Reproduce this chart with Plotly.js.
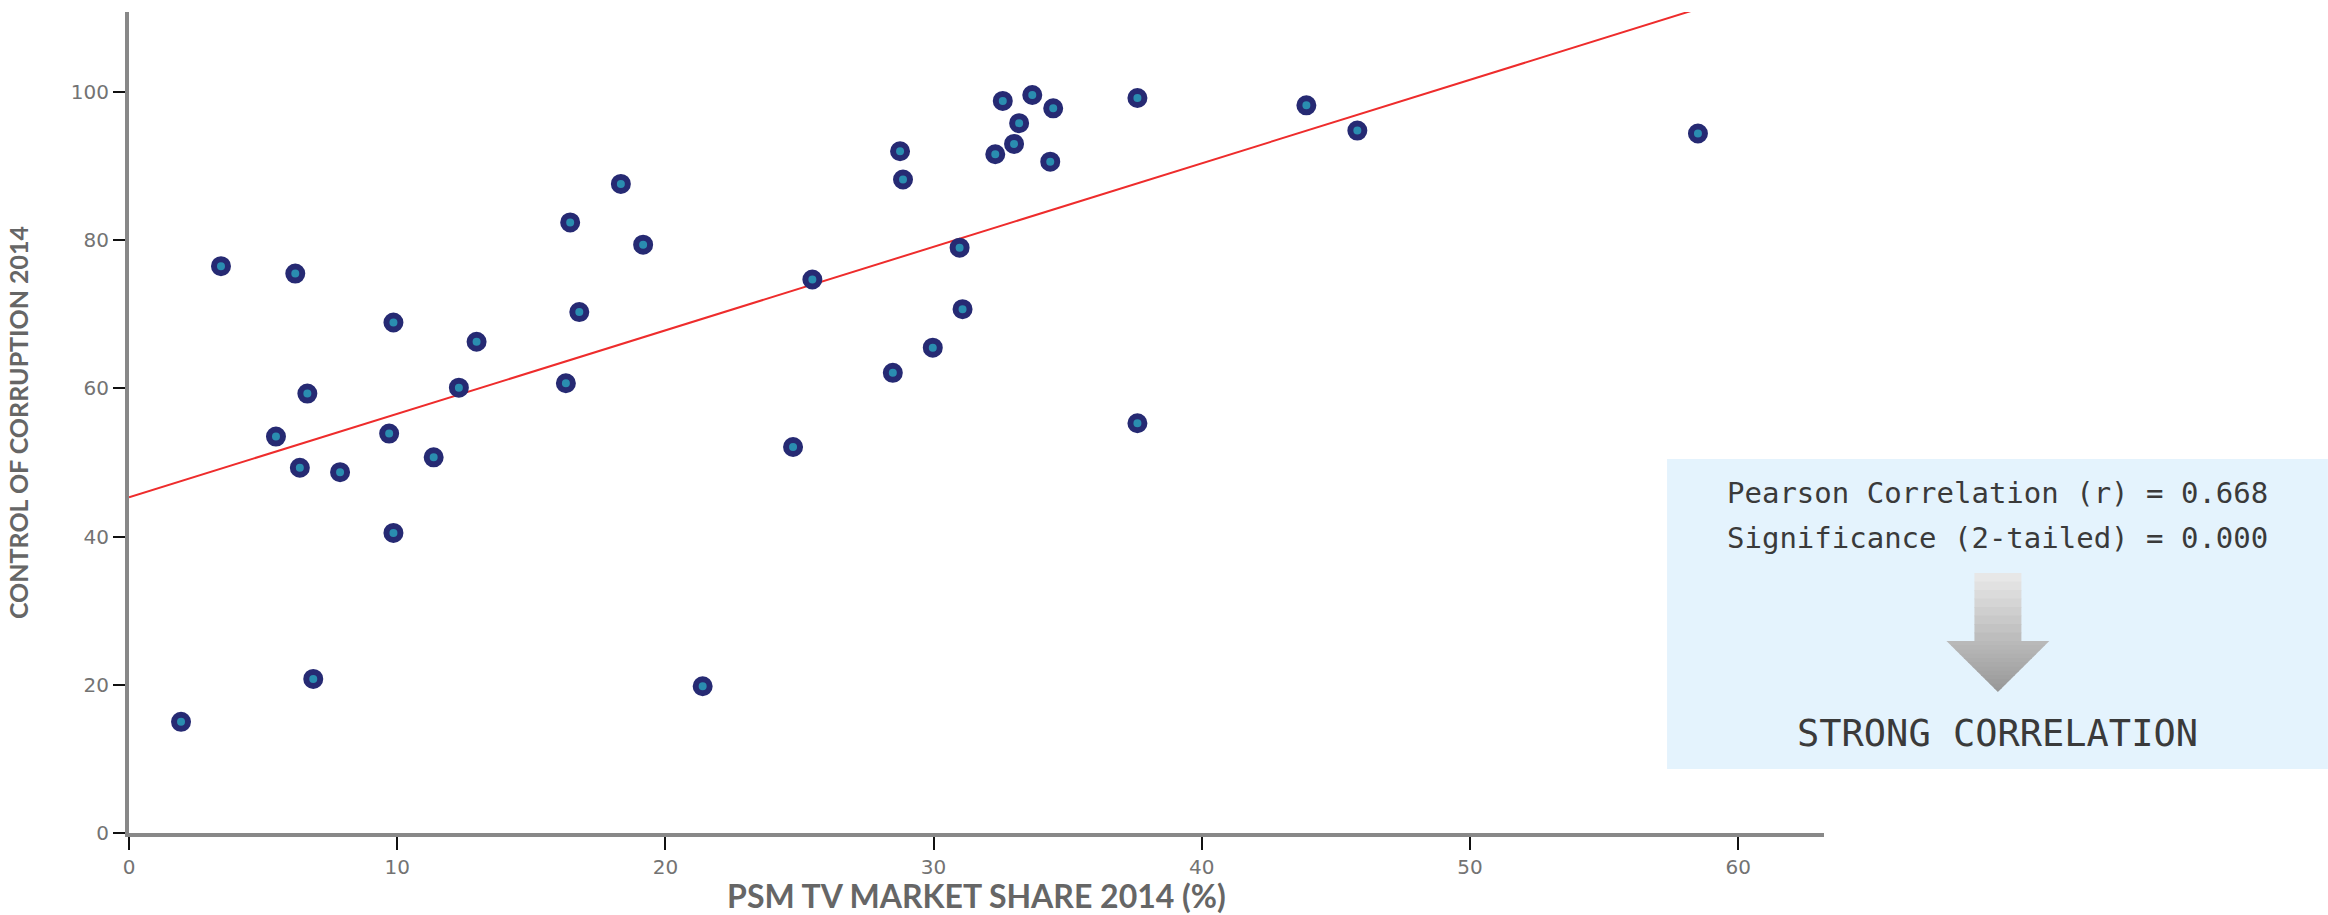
<!DOCTYPE html>
<html>
<head>
<meta charset="utf-8">
<script src="https://cdn.plot.ly/plotly-3.0.1.min.js"></script>
<style>html,body{margin:0;padding:0;background:#fff;}#chart{width:2328px;height:915px;}</style>
</head>
<body>
<div id="chart"></div>
<script>
// PSM TV market share 2014 (%)
const marketShare = [1.94, 3.43, 5.48, 6.2, 6.37, 6.65, 6.87, 7.87, 9.7, 9.86, 9.86, 11.36, 12.3, 12.96,
  16.29, 16.45, 16.79, 18.34, 19.17, 21.39, 24.76, 25.48, 28.48, 28.75, 28.86, 29.97, 30.97, 31.08,
  32.3, 32.58, 33.0, 33.19, 33.68, 34.35, 34.46, 37.6, 37.6, 43.9, 45.8, 58.5];
// Control of corruption 2014
const corruption = [15.0, 76.5, 53.5, 75.5, 49.3, 59.3, 20.8, 48.7, 53.9, 68.9, 40.5, 50.7, 60.1, 66.3,
  60.7, 82.4, 70.3, 87.6, 79.4, 19.8, 52.1, 74.7, 62.1, 92.0, 88.2, 65.5, 79.0, 70.7,
  91.6, 98.8, 93.0, 95.8, 99.6, 90.6, 97.8, 99.2, 55.3, 98.2, 94.8, 94.4];
// Fit line
const fitIntercept = 45.3;
const fitSlope = 1.127;
const xRange = [0, 63.2];
const yRange = [0, 110.8];
const xTicks = [0, 10, 20, 30, 40, 50, 60];
const yTicks = [0, 20, 40, 60, 80, 100];
const statLines = ["Pearson Correlation (r) = 0.668", "Significance (2-tailed) = 0.000"];
const verdict = "STRONG CORRELATION";

const fitX = xRange.slice();
const fitY = fitX.map(x => fitIntercept + fitSlope * x);

const traces = [
  {
    x: fitX, y: fitY, type: 'scatter', mode: 'lines',
    line: {color: '#ee2c2c', width: 2}, hoverinfo: 'skip', showlegend: false
  },
  {
    x: marketShare, y: corruption, type: 'scatter', mode: 'markers',
    marker: {size: 14, color: '#2a8db0', line: {color: '#262a73', width: 6}},
    cliponaxis: false, showlegend: false
  }
];

const tickFont = {family: 'DejaVu Sans', size: 20, color: '#737373'};

// annotation box in paper coords
const bx0 = 0.9074, bx1 = 1.2973, by0 = 0.078, by1 = 0.4555;
const bxc = (bx0 + bx1) / 2;

const shapes = [
  {type: 'rect', xref: 'paper', yref: 'paper', x0: bx0, x1: bx1, y0: by0, y1: by1,
   fillcolor: '#e4f3fd', line: {width: 0}, layer: 'below'}
];
// gradient down-arrow built from horizontal bands
const aC = 1.1026, shaftHW = 0.01385, headHW = 0.03035;
const aTop = 0.3167, aNeck = 0.2339, aTip = 0.1718;
const cTop = 234, cBot = 150;
function grey(y) {
  const t = (aTop - y) / (aTop - aTip);
  const v = Math.round(cTop + (cBot - cTop) * t);
  return 'rgb(' + v + ',' + v + ',' + v + ')';
}
const nS = 8, nH = 12;
for (let i = 0; i < nS; i++) {
  const y0 = aTop - (aTop - aNeck) * i / nS, y1 = aTop - (aTop - aNeck) * (i + 1) / nS;
  shapes.push({type: 'path', xref: 'paper', yref: 'paper',
    path: `M ${aC - shaftHW} ${y0} L ${aC + shaftHW} ${y0} L ${aC + shaftHW} ${y1 - 0.001} L ${aC - shaftHW} ${y1 - 0.001} Z`,
    fillcolor: grey((y0 + y1) / 2), line: {width: 0}});
}
for (let i = 0; i < nH; i++) {
  const y0 = aNeck - (aNeck - aTip) * i / nH, y1 = aNeck - (aNeck - aTip) * (i + 1) / nH;
  const w0 = headHW * (y0 - aTip) / (aNeck - aTip);
  const y1e = i < nH - 1 ? y1 - 0.001 : y1;
  const w1e = i < nH - 1 ? headHW * (y1e - aTip) / (aNeck - aTip) : 0;
  shapes.push({type: 'path', xref: 'paper', yref: 'paper',
    path: `M ${aC - w0} ${y0} L ${aC + w0} ${y0} L ${aC + w1e} ${y1e} L ${aC - w1e} ${y1e} Z`,
    fillcolor: grey((y0 + y1) / 2), line: {width: 0}});
}

const layout = {
  width: 2328, height: 915,
  margin: {l: 129, r: 504, t: 12, b: 82},
  paper_bgcolor: '#ffffff', plot_bgcolor: '#ffffff',
  showlegend: false,
  xaxis: {
    range: xRange, tickvals: xTicks, ticks: 'outside', ticklen: 13, tickwidth: 2, tickcolor: '#111',
    showgrid: false, zeroline: false, showline: true, linecolor: '#888', linewidth: 4,
    tickfont: tickFont,
    title: {text: 'PSM TV MARKET SHARE 2014 (%)', standoff: 18,
      font: {family: 'Lato, sans-serif', size: 32, color: '#666666', weight: 'bold'}}
  },
  yaxis: {
    range: yRange, tickvals: yTicks, ticks: 'outside', ticklen: 12, tickwidth: 2, tickcolor: '#111',
    showgrid: false, zeroline: false, showline: true, linecolor: '#888', linewidth: 4,
    tickfont: tickFont,
    title: {text: 'CONTROL OF CORRUPTION 2014', standoff: 36,
      font: {family: 'Lato, sans-serif', size: 25, color: '#666666', weight: 'bold'}}
  },
  shapes: shapes,
  annotations: [
    {xref: 'paper', yref: 'paper', x: bxc, y: 0.4142, text: statLines[0], showarrow: false,
     font: {family: 'DejaVu Sans Mono', size: 29, color: '#3a3a3a'}, xanchor: 'center', yanchor: 'middle'},
    {xref: 'paper', yref: 'paper', x: bxc, y: 0.3594, text: statLines[1], showarrow: false,
     font: {family: 'DejaVu Sans Mono', size: 29, color: '#3a3a3a'}, xanchor: 'center', yanchor: 'middle'},
    {xref: 'paper', yref: 'paper', x: bxc, y: 0.1218, text: verdict, showarrow: false,
     font: {family: 'DejaVu Sans Mono', size: 37, color: '#3a3a3a'}, xanchor: 'center', yanchor: 'middle'}
  ]
};

Plotly.newPlot('chart', traces, layout, {displayModeBar: false, staticPlot: true});
</script>
</body>
</html>
